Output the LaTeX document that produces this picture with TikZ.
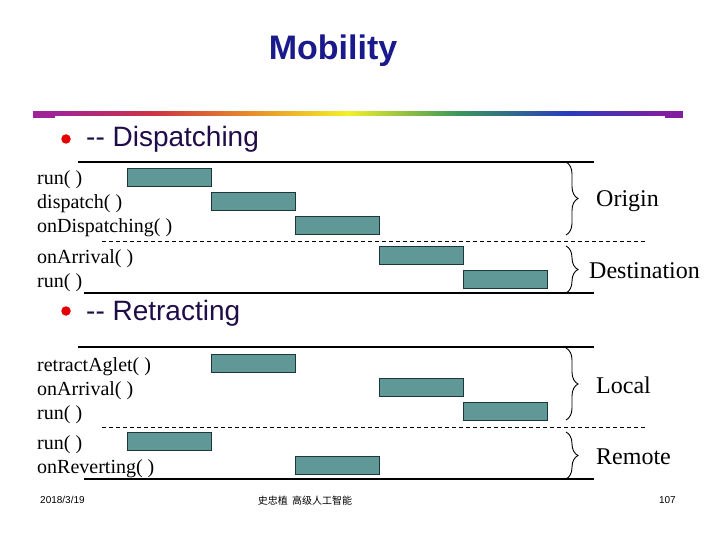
\documentclass[tikz,border=0pt]{standalone}
\usepackage{fontspec}
\setmainfont{Liberation Serif}
\setsansfont{Liberation Sans}
\newfontfamily\cjkfont{Noto Sans CJK SC}
\usetikzlibrary{decorations.pathreplacing}

\definecolor{titleblue}{RGB}{26,26,140}
\definecolor{headink}{RGB}{32,12,72}
\definecolor{barteal}{RGB}{96,152,152}
\definecolor{bardark}{RGB}{28,56,56}
\definecolor{rbA}{RGB}{160,36,150}
\definecolor{rbB}{RGB}{205,50,70}
\definecolor{rbC}{RGB}{232,140,40}
\definecolor{rbD}{RGB}{242,240,40}
\definecolor{rbE}{RGB}{60,150,90}
\definecolor{rbF}{RGB}{40,60,190}
\definecolor{rbG}{RGB}{130,30,160}
\pgfdeclarehorizontalshading{rainbow}{100bp}{color(0bp)=(rbA); color(25bp)=(rbA);
  color(33bp)=(rbB); color(41bp)=(rbC); color(49bp)=(rbD); color(58bp)=(rbE);
  color(67bp)=(rbF); color(75bp)=(rbG); color(100bp)=(rbG)}

\begin{document}
\begin{tikzpicture}[x=1pt, y=-1pt,
    bar/.style={draw=bardark, fill=barteal, line width=0.8pt, minimum width=84pt, minimum height=18pt, inner sep=0, anchor=north west},
    lbl/.style={font=\fontsize{20}{24}\selectfont, anchor=base west, inner sep=0},
    side/.style={font=\fontsize{24}{28}\selectfont, anchor=base west, inner sep=0},
    head/.style={font=\sffamily\fontsize{28}{32}\selectfont, text=headink, anchor=base west, inner sep=0},
    bullet/.style={shape=circle, fill=red!90!black, minimum size=9.5pt, inner sep=0},
    foot/.style={font=\sffamily\fontsize{10}{12}\selectfont, inner sep=0},
    rule/.style={line width=1.8pt},
    split/.style={line width=0.9pt, dash pattern=on 4pt off 3pt},
    brc/.style={decorate, decoration={brace, amplitude=12pt}, line width=0.9pt}]
  \useasboundingbox[fill=white] (0,0) rectangle (720,540);

  % title and rule
  \node[font=\sffamily\bfseries\fontsize{34}{40}\selectfont, text=titleblue] (title) at (333,51) {Mobility};
  \fill[rbA] (33,111) rectangle (55,118);
  \fill[rbG] (665,111) rectangle (683,118);
  \shade[shading=rainbow] (55,111.5) rectangle (665,115.5);

  % dispatching
  \node[bullet] (b1) at (66,139) {};
  \node[head] (dsp) at (86,147) {-\kern0pt- Dispatching};
  \draw[rule] (78,162) -- (594,162);
  \node[lbl] (d1l) at (37,185) {run( )};
  \node[lbl] (d2l) at (37,209) {dispatch( )};
  \node[lbl] (d3l) at (37,233) {onDispatching( )};
  \node[lbl] (d4l) at (37,263) {onArrival( )};
  \node[lbl] (d5l) at (37,287) {run( )};
  \node[bar] (d1) at (127,168) {};
  \node[bar] (d2) at (211,192) {};
  \node[bar] (d3) at (295,216) {};
  \node[bar] (d4) at (379,246) {};
  \node[bar] (d5) at (463,270) {};
  \draw[split] (102,241) -- (645,241);
  \draw[rule] (84,293) -- (594,293);
  \coordinate (ot) at (566,162);
  \coordinate (ob) at (566,235);
  \coordinate (dt) at (566,246);
  \coordinate (db) at (566,293);
  \draw[brc] (ot) -- (ob);
  \draw[brc] (dt) -- (db);
  \node[side] (org) at (596,207) {Origin};
  \node[side] (dst) at (589,278) {Destination};

  % retracting
  \node[bullet] (b2) at (66,311) {};
  \node[head] (rtr) at (86,320) {-\kern0pt- Retracting};
  \draw[rule] (78,347) -- (594,347);
  \node[lbl] (r1l) at (37,371) {retractAglet( )};
  \node[lbl] (r2l) at (37,395) {onArrival( )};
  \node[lbl] (r3l) at (37,419) {run( )};
  \node[lbl] (r4l) at (37,449) {run( )};
  \node[lbl] (r5l) at (37,473) {onReverting( )};
  \node[bar] (r1) at (211,354) {};
  \node[bar] (r2) at (379,378) {};
  \node[bar] (r3) at (463,402) {};
  \node[bar] (r4) at (127,432) {};
  \node[bar] (r5) at (295,456) {};
  \draw[split] (102,427) -- (645,427);
  \draw[rule] (84,479) -- (594,479);
  \coordinate (lt) at (566,348);
  \coordinate (lb) at (566,420);
  \coordinate (mt) at (566,432);
  \coordinate (mb) at (566,479);
  \draw[brc] (lt) -- (lb);
  \draw[brc] (mt) -- (mb);
  \node[side] (loc) at (596,393) {Local};
  \node[side] (rem) at (596,464) {Remote};

  % footer
  \node[foot, anchor=west] (date) at (40,500) {2018/3/19};
  \node[foot] (auth) at (305,501) {\cjkfont 史忠植\ \ 高级人工智能};
  \node[foot, anchor=east] (page) at (676,500) {107};
\end{tikzpicture}
\end{document}
